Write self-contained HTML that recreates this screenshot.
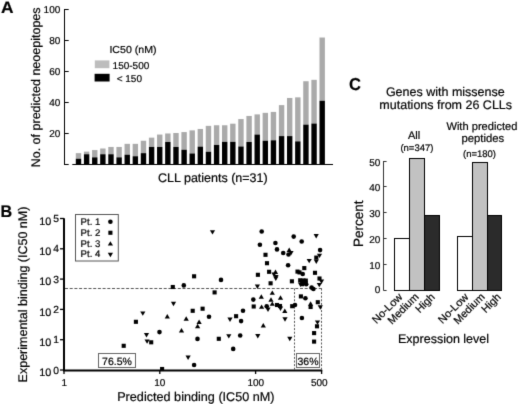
<!DOCTYPE html>
<html><head><meta charset="utf-8"><style>
html,body{margin:0;padding:0;background:#fff;}
svg{display:block;}
text{font-family:"Liberation Sans", sans-serif;fill:#000;stroke:#000;stroke-width:0.2px;text-rendering:geometricPrecision;}
</style></head><body>
<svg width="520" height="404" viewBox="0 0 520 404">
<defs><filter id="sb" color-interpolation-filters="sRGB" x="0" y="0" width="520" height="404" filterUnits="userSpaceOnUse"><feConvolveMatrix order="3" kernelMatrix="0.0113 0.0838 0.0113 0.0838 0.6193 0.0838 0.0113 0.0838 0.0113" edgeMode="duplicate"/></filter></defs>
<rect width="520" height="404" fill="#fff"/>
<g filter="url(#sb)">
<text transform="translate(0.9,12.8) scale(1.05,1)" font-size="16.5" font-weight="bold">A</text>
<line x1="64.5" y1="9" x2="64.5" y2="165" stroke="#000" stroke-width="1"/>
<line x1="64.5" y1="164.5" x2="68.7" y2="164.5" stroke="#000" stroke-width="1"/>
<line x1="64.5" y1="133.5" x2="68.7" y2="133.5" stroke="#000" stroke-width="1"/>
<text x="60.3" y="137.4" font-size="10" text-anchor="end">20</text>
<line x1="64.5" y1="102.5" x2="68.7" y2="102.5" stroke="#000" stroke-width="1"/>
<text x="60.3" y="106.4" font-size="10" text-anchor="end">40</text>
<line x1="64.5" y1="71.5" x2="68.7" y2="71.5" stroke="#000" stroke-width="1"/>
<text x="60.3" y="75.4" font-size="10" text-anchor="end">60</text>
<line x1="64.5" y1="40.5" x2="68.7" y2="40.5" stroke="#000" stroke-width="1"/>
<text x="60.3" y="44.4" font-size="10" text-anchor="end">80</text>
<line x1="64.5" y1="9.5" x2="68.7" y2="9.5" stroke="#000" stroke-width="1"/>
<text x="60.3" y="13.4" font-size="10" text-anchor="end">100</text>
<line x1="72.3" y1="164.5" x2="333" y2="164.5" stroke="#000" stroke-width="1"/>
<rect x="75.80" y="153.15" width="5.4" height="5.58" fill="#aaaaaa"/>
<rect x="75.80" y="158.73" width="5.4" height="5.27" fill="#000"/>
<rect x="83.92" y="151.60" width="5.4" height="2.64" fill="#aaaaaa"/>
<rect x="83.92" y="154.24" width="5.4" height="9.76" fill="#000"/>
<rect x="92.05" y="150.05" width="5.4" height="7.28" fill="#aaaaaa"/>
<rect x="92.05" y="157.34" width="5.4" height="6.66" fill="#000"/>
<rect x="100.17" y="148.50" width="5.4" height="5.74" fill="#aaaaaa"/>
<rect x="100.17" y="154.24" width="5.4" height="9.76" fill="#000"/>
<rect x="108.29" y="146.95" width="5.4" height="7.29" fill="#aaaaaa"/>
<rect x="108.29" y="154.24" width="5.4" height="9.76" fill="#000"/>
<rect x="116.41" y="146.95" width="5.4" height="10.39" fill="#aaaaaa"/>
<rect x="116.41" y="157.34" width="5.4" height="6.66" fill="#000"/>
<rect x="124.54" y="143.85" width="5.4" height="10.85" fill="#aaaaaa"/>
<rect x="124.54" y="154.70" width="5.4" height="9.30" fill="#000"/>
<rect x="132.66" y="143.85" width="5.4" height="12.40" fill="#aaaaaa"/>
<rect x="132.66" y="156.25" width="5.4" height="7.75" fill="#000"/>
<rect x="140.78" y="140.75" width="5.4" height="12.40" fill="#aaaaaa"/>
<rect x="140.78" y="153.15" width="5.4" height="10.85" fill="#000"/>
<rect x="148.91" y="137.65" width="5.4" height="9.30" fill="#aaaaaa"/>
<rect x="148.91" y="146.95" width="5.4" height="17.05" fill="#000"/>
<rect x="157.03" y="134.55" width="5.4" height="12.40" fill="#aaaaaa"/>
<rect x="157.03" y="146.95" width="5.4" height="17.05" fill="#000"/>
<rect x="165.15" y="133.47" width="5.4" height="8.53" fill="#aaaaaa"/>
<rect x="165.15" y="141.99" width="5.4" height="22.01" fill="#000"/>
<rect x="173.28" y="133.00" width="5.4" height="13.95" fill="#aaaaaa"/>
<rect x="173.28" y="146.95" width="5.4" height="17.05" fill="#000"/>
<rect x="181.40" y="132.07" width="5.4" height="17.67" fill="#aaaaaa"/>
<rect x="181.40" y="149.74" width="5.4" height="14.26" fill="#000"/>
<rect x="189.52" y="130.37" width="5.4" height="23.09" fill="#aaaaaa"/>
<rect x="189.52" y="153.46" width="5.4" height="10.54" fill="#000"/>
<rect x="197.64" y="128.97" width="5.4" height="17.67" fill="#aaaaaa"/>
<rect x="197.64" y="146.64" width="5.4" height="17.36" fill="#000"/>
<rect x="205.77" y="125.87" width="5.4" height="25.88" fill="#aaaaaa"/>
<rect x="205.77" y="151.75" width="5.4" height="12.25" fill="#000"/>
<rect x="213.89" y="125.25" width="5.4" height="19.69" fill="#aaaaaa"/>
<rect x="213.89" y="144.94" width="5.4" height="19.06" fill="#000"/>
<rect x="222.01" y="125.25" width="5.4" height="16.59" fill="#aaaaaa"/>
<rect x="222.01" y="141.84" width="5.4" height="22.16" fill="#000"/>
<rect x="230.14" y="123.70" width="5.4" height="18.14" fill="#aaaaaa"/>
<rect x="230.14" y="141.84" width="5.4" height="22.16" fill="#000"/>
<rect x="238.26" y="119.05" width="5.4" height="27.44" fill="#aaaaaa"/>
<rect x="238.26" y="146.49" width="5.4" height="17.51" fill="#000"/>
<rect x="246.38" y="115.95" width="5.4" height="26.04" fill="#aaaaaa"/>
<rect x="246.38" y="141.99" width="5.4" height="22.01" fill="#000"/>
<rect x="254.51" y="114.40" width="5.4" height="20.15" fill="#aaaaaa"/>
<rect x="254.51" y="134.55" width="5.4" height="29.45" fill="#000"/>
<rect x="262.63" y="112.85" width="5.4" height="27.90" fill="#aaaaaa"/>
<rect x="262.63" y="140.75" width="5.4" height="23.25" fill="#000"/>
<rect x="270.75" y="111.92" width="5.4" height="28.37" fill="#aaaaaa"/>
<rect x="270.75" y="140.28" width="5.4" height="23.72" fill="#000"/>
<rect x="278.88" y="105.10" width="5.4" height="31.00" fill="#aaaaaa"/>
<rect x="278.88" y="136.10" width="5.4" height="27.90" fill="#000"/>
<rect x="287.00" y="97.97" width="5.4" height="38.13" fill="#aaaaaa"/>
<rect x="287.00" y="136.10" width="5.4" height="27.90" fill="#000"/>
<rect x="295.12" y="97.35" width="5.4" height="44.02" fill="#aaaaaa"/>
<rect x="295.12" y="141.37" width="5.4" height="22.63" fill="#000"/>
<rect x="303.24" y="81.23" width="5.4" height="43.40" fill="#aaaaaa"/>
<rect x="303.24" y="124.63" width="5.4" height="39.37" fill="#000"/>
<rect x="311.37" y="79.84" width="5.4" height="43.71" fill="#aaaaaa"/>
<rect x="311.37" y="123.54" width="5.4" height="40.46" fill="#000"/>
<rect x="319.49" y="37.52" width="5.4" height="63.24" fill="#aaaaaa"/>
<rect x="319.49" y="100.76" width="5.4" height="63.24" fill="#000"/>
<text transform="translate(109.4,53.4) scale(1.05,1)" font-size="10.1">IC50 (nM)</text>
<rect x="94.8" y="60.4" width="14.6" height="7.8" fill="#bdbdbd"/>
<rect x="94.6" y="73.8" width="15" height="7.7" fill="#000"/>
<text x="112.6" y="68.5" font-size="10">150-500</text>
<text x="116.7" y="81.5" font-size="10">&lt; 150</text>
<text x="158" y="181.9" font-size="12.5">CLL patients (n=31)</text>
<text transform="translate(40.0,167.3) rotate(-90)" font-size="12.5">No. of predicted neoepitopes</text>
<text transform="translate(0.6,216.9) scale(0.96,1)" font-size="16.8" font-weight="bold">B</text>
<line x1="64" y1="218.2" x2="64" y2="371" stroke="#000" stroke-width="2"/>
<line x1="60" y1="370.0" x2="64" y2="370.0" stroke="#000" stroke-width="1.3"/>
<text x="39.2" y="376.2" font-size="10.8">10</text>
<text x="53.3" y="373.5" font-size="10.3">0</text>
<line x1="60" y1="339.7" x2="64" y2="339.7" stroke="#000" stroke-width="1.3"/>
<text x="39.2" y="345.9" font-size="10.8">10</text>
<text x="53.3" y="343.2" font-size="10.3">1</text>
<line x1="60" y1="309.4" x2="64" y2="309.4" stroke="#000" stroke-width="1.3"/>
<text x="39.2" y="315.6" font-size="10.8">10</text>
<text x="53.3" y="312.9" font-size="10.3">2</text>
<line x1="60" y1="279.1" x2="64" y2="279.1" stroke="#000" stroke-width="1.3"/>
<text x="39.2" y="285.3" font-size="10.8">10</text>
<text x="53.3" y="282.6" font-size="10.3">3</text>
<line x1="60" y1="248.8" x2="64" y2="248.8" stroke="#000" stroke-width="1.3"/>
<text x="39.2" y="255.0" font-size="10.8">10</text>
<text x="53.3" y="252.3" font-size="10.3">4</text>
<line x1="60" y1="218.5" x2="64" y2="218.5" stroke="#000" stroke-width="1.3"/>
<text x="39.2" y="224.7" font-size="10.8">10</text>
<text x="53.3" y="222.0" font-size="10.3">5</text>
<line x1="63" y1="370.4" x2="322.2" y2="370.4" stroke="#000" stroke-width="2"/>
<line x1="64.0" y1="370.0" x2="64.0" y2="374.0" stroke="#000" stroke-width="1.3"/>
<text x="64.2" y="385.6" font-size="10" text-anchor="middle">1</text>
<line x1="159.8" y1="370.0" x2="159.8" y2="374.0" stroke="#000" stroke-width="1.3"/>
<text x="159.8" y="385.6" font-size="10" text-anchor="middle">10</text>
<line x1="255.6" y1="370.0" x2="255.6" y2="374.0" stroke="#000" stroke-width="1.3"/>
<text x="255.8" y="385.6" font-size="10" text-anchor="middle">100</text>
<line x1="321.6" y1="370.0" x2="321.6" y2="374.0" stroke="#000" stroke-width="1.3"/>
<text x="319.3" y="385.6" font-size="10" text-anchor="middle">500</text>
<text x="117.2" y="400.6" font-size="12.65">Predicted binding (IC50 nM)</text>
<text transform="translate(27.3,382.4) rotate(-90)" font-size="12.5">Experimental binding (IC50 nM)</text>
<line x1="65" y1="288.5" x2="322" y2="288.5" stroke="#555" stroke-width="1" stroke-dasharray="3,1.7"/>
<line x1="294.5" y1="288.5" x2="294.5" y2="370" stroke="#555" stroke-width="1" stroke-dasharray="2,1.6"/>
<line x1="321.5" y1="288.5" x2="321.5" y2="370" stroke="#555" stroke-width="1" stroke-dasharray="2,1.6"/>
<rect x="98.5" y="353.5" width="37" height="14" fill="#fff" stroke="#666" stroke-width="1"/>
<text x="117" y="365" font-size="10.5" text-anchor="middle">76.5%</text>
<rect x="296.5" y="353.5" width="23" height="14" fill="#fff" stroke="#666" stroke-width="1"/>
<text x="308" y="364.6" font-size="10.5" text-anchor="middle">36%</text>
<rect x="75.5" y="214.5" width="42.8" height="46.5" fill="#fff" stroke="#555" stroke-width="1"/>
<text x="80.6" y="224.7" font-size="9.6">Pt. 1</text>
<text x="80.6" y="235.6" font-size="9.6">Pt. 2</text>
<text x="80.6" y="246.5" font-size="9.6">Pt. 3</text>
<text x="80.6" y="257.4" font-size="9.6">Pt. 4</text>
<circle cx="110.4" cy="221.8" r="2.3"/>
<rect x="108.35" y="230.70" width="4.1" height="4.1"/>
<path d="M107.80,245.60L113.00,245.60L110.40,241.20Z"/>
<path d="M107.80,252.75L113.00,252.75L110.40,257.15Z"/>
<g fill="#000">
<rect x="121.65" y="343.75" width="4.1" height="4.1"/>
<rect x="133.85" y="319.75" width="4.1" height="4.1"/>
<path d="M140.20,311.40L145.40,311.40L142.80,315.80Z"/>
<path d="M164.70,318.40L169.90,318.40L167.30,314.00Z"/>
<circle cx="159.5" cy="332.1" r="2.3"/>
<path d="M143.90,333.10L149.10,333.10L146.50,337.50Z"/>
<path d="M144.50,339.40L149.70,339.40L147.10,343.80Z"/>
<rect x="149.15" y="340.25" width="4.1" height="4.1"/>
<rect x="160.05" y="366.95" width="4.1" height="4.1"/>
<rect x="170.75" y="284.95" width="4.1" height="4.1"/>
<circle cx="183.8" cy="285.4" r="2.3"/>
<rect x="192.05" y="274.25" width="4.1" height="4.1"/>
<path d="M209.90,230.20L215.10,230.20L212.50,234.60Z"/>
<circle cx="221.0" cy="279.9" r="2.3"/>
<rect x="212.55" y="290.35" width="4.1" height="4.1"/>
<path d="M170.90,301.80L176.10,301.80L173.50,306.20Z"/>
<rect x="190.65" y="308.75" width="4.1" height="4.1"/>
<rect x="200.55" y="306.65" width="4.1" height="4.1"/>
<path d="M183.60,320.70L188.80,320.70L186.20,316.30Z"/>
<circle cx="209.0" cy="316.8" r="2.3"/>
<path d="M196.50,323.90L201.70,323.90L199.10,319.50Z"/>
<path d="M195.00,328.20L200.20,328.20L197.60,323.80Z"/>
<path d="M178.90,332.50L184.10,332.50L181.50,328.10Z"/>
<circle cx="197.5" cy="338.9" r="2.3"/>
<rect x="216.75" y="336.75" width="4.1" height="4.1"/>
<path d="M185.50,355.60L190.70,355.60L188.10,360.00Z"/>
<circle cx="194.1" cy="365.0" r="2.3"/>
<path d="M254.80,284.60L260.00,284.60L257.40,289.00Z"/>
<path d="M258.70,298.70L263.90,298.70L261.30,294.30Z"/>
<path d="M269.70,294.80L274.90,294.80L272.30,290.40Z"/>
<circle cx="253.3" cy="299.6" r="2.3"/>
<rect x="251.65" y="304.45" width="4.1" height="4.1"/>
<path d="M259.00,308.80L264.20,308.80L261.60,304.40Z"/>
<circle cx="266.7" cy="306.2" r="2.3"/>
<path d="M268.40,301.70L273.60,301.70L271.00,297.30Z"/>
<path d="M269.70,305.80L274.90,305.80L272.30,301.40Z"/>
<path d="M265.40,307.60L270.60,307.60L268.00,312.00Z"/>
<circle cx="243.0" cy="310.8" r="2.3"/>
<rect x="234.05" y="314.15" width="4.1" height="4.1"/>
<path d="M227.40,317.50L232.60,317.50L230.00,321.90Z"/>
<circle cx="241.1" cy="321.1" r="2.3"/>
<path d="M260.70,327.50L265.90,327.50L263.30,323.10Z"/>
<path d="M226.20,334.20L231.40,334.20L228.80,338.60Z"/>
<circle cx="240.2" cy="335.5" r="2.3"/>
<path d="M255.20,334.10L260.40,334.10L257.80,338.50Z"/>
<circle cx="233.2" cy="348.9" r="2.3"/>
<path d="M277.90,299.70L283.10,299.70L280.50,295.30Z"/>
<rect x="274.95" y="302.95" width="4.1" height="4.1"/>
<rect x="277.95" y="303.95" width="4.1" height="4.1"/>
<path d="M277.90,306.60L283.10,306.60L280.50,311.00Z"/>
<path d="M282.20,312.90L287.40,312.90L284.80,308.50Z"/>
<path d="M282.40,317.30L287.60,317.30L285.00,321.70Z"/>
<path d="M287.20,336.80L292.40,336.80L289.80,341.20Z"/>
<rect x="290.15" y="304.15" width="4.1" height="4.1"/>
<circle cx="295.0" cy="305.0" r="2.3"/>
<rect x="298.85" y="294.35" width="4.1" height="4.1"/>
<circle cx="305.4" cy="298.3" r="2.3"/>
<path d="M308.00,305.70L313.20,305.70L310.60,301.30Z"/>
<rect x="308.55" y="304.95" width="4.1" height="4.1"/>
<rect x="315.75" y="300.15" width="4.1" height="4.1"/>
<path d="M317.70,305.30L322.90,305.30L320.30,309.70Z"/>
<circle cx="301.9" cy="318.0" r="2.3"/>
<path d="M314.90,320.40L320.10,320.40L317.50,324.80Z"/>
<rect x="314.95" y="324.25" width="4.1" height="4.1"/>
<rect x="312.05" y="331.05" width="4.1" height="4.1"/>
<rect x="312.05" y="339.55" width="4.1" height="4.1"/>
<circle cx="311.6" cy="287.6" r="2.3"/>
<circle cx="313.4" cy="289.0" r="2.3"/>
<rect x="268.55" y="281.25" width="4.1" height="4.1"/>
<rect x="289.85" y="279.25" width="4.1" height="4.1"/>
<path d="M273.20,276.60L278.40,276.60L275.80,281.00Z"/>
<circle cx="261.7" cy="231.5" r="2.3"/>
<circle cx="259.9" cy="244.8" r="2.3"/>
<circle cx="275.4" cy="243.0" r="2.3"/>
<circle cx="277.0" cy="249.4" r="2.3"/>
<circle cx="283.2" cy="253.0" r="2.3"/>
<rect x="263.45" y="252.75" width="4.1" height="4.1"/>
<circle cx="293.7" cy="236.6" r="2.3"/>
<circle cx="301.7" cy="241.5" r="2.3"/>
<path d="M313.60,234.00L318.80,234.00L316.20,238.40Z"/>
<path d="M286.60,251.90L291.80,251.90L289.20,247.50Z"/>
<path d="M288.40,251.10L293.60,251.10L291.00,255.50Z"/>
<circle cx="288.5" cy="254.5" r="2.3"/>
<circle cx="320.1" cy="250.1" r="2.3"/>
<path d="M316.90,253.70L322.10,253.70L319.50,258.10Z"/>
<path d="M306.60,258.90L311.80,258.90L309.20,263.30Z"/>
<rect x="314.25" y="255.55" width="4.1" height="4.1"/>
<path d="M313.70,259.50L318.90,259.50L316.30,263.90Z"/>
<circle cx="288.1" cy="265.2" r="2.3"/>
<rect x="264.95" y="261.15" width="4.1" height="4.1"/>
<rect x="267.05" y="269.75" width="4.1" height="4.1"/>
<rect x="255.85" y="272.75" width="4.1" height="4.1"/>
<path d="M272.90,273.90L278.10,273.90L275.50,269.50Z"/>
<path d="M273.40,275.10L278.60,275.10L276.00,279.50Z"/>
<path d="M271.40,272.60L276.60,272.60L274.00,277.00Z"/>
<rect x="302.25" y="266.05" width="4.1" height="4.1"/>
<rect x="295.45" y="269.55" width="4.1" height="4.1"/>
<rect x="297.45" y="270.35" width="4.1" height="4.1"/>
<circle cx="302.7" cy="274.0" r="2.3"/>
<rect x="312.95" y="270.75" width="4.1" height="4.1"/>
<rect x="298.15" y="278.25" width="4.1" height="4.1"/>
<rect x="303.75" y="278.55" width="4.1" height="4.1"/>
<circle cx="302.8" cy="282.5" r="2.3"/>
<path d="M297.90,282.60L303.10,282.60L300.50,287.00Z"/>
<circle cx="306.2" cy="284.3" r="2.3"/>
<rect x="301.45" y="278.45" width="4.1" height="4.1"/>
<rect x="299.95" y="282.15" width="4.1" height="4.1"/>
<rect x="303.45" y="280.95" width="4.1" height="4.1"/>
<rect x="317.45" y="276.45" width="4.1" height="4.1"/>
<path d="M318.90,279.60L324.10,279.60L321.50,284.00Z"/>
<path d="M316.70,282.90L321.90,282.90L319.30,287.30Z"/>
</g>
<text transform="translate(348.9,89.7) scale(0.96,1)" font-size="17.3" font-weight="bold">C</text>
<text x="445.3" y="95.9" font-size="12.5" text-anchor="middle">Genes with missense</text>
<text x="445.7" y="108.8" font-size="12.5" text-anchor="middle">mutations from 26 CLLs</text>
<text x="414" y="138.6" font-size="11" text-anchor="middle">All</text>
<text x="416.9" y="150.9" font-size="9.5" text-anchor="middle">(n=347)</text>
<text x="481.9" y="129.9" font-size="11.1" text-anchor="middle">With predicted</text>
<text x="482.8" y="142.3" font-size="11.3" text-anchor="middle">peptides</text>
<text x="479.5" y="156.6" font-size="9.5" text-anchor="middle">(n=180)</text>
<line x1="383.5" y1="161" x2="383.5" y2="290.5" stroke="#333" stroke-width="1"/>
<line x1="383.5" y1="290.5" x2="386.6" y2="290.5" stroke="#333" stroke-width="1"/>
<text x="380.3" y="292.5" font-size="10" text-anchor="end">0</text>
<line x1="383.5" y1="264.5" x2="386.6" y2="264.5" stroke="#333" stroke-width="1"/>
<text x="380.3" y="268.7" font-size="10" text-anchor="end">10</text>
<line x1="383.5" y1="238.5" x2="386.6" y2="238.5" stroke="#333" stroke-width="1"/>
<text x="380.3" y="242.7" font-size="10" text-anchor="end">20</text>
<line x1="383.5" y1="212.5" x2="386.6" y2="212.5" stroke="#333" stroke-width="1"/>
<text x="380.3" y="216.7" font-size="10" text-anchor="end">30</text>
<line x1="383.5" y1="186.5" x2="386.6" y2="186.5" stroke="#333" stroke-width="1"/>
<text x="380.3" y="190.7" font-size="10" text-anchor="end">40</text>
<line x1="383.5" y1="161.5" x2="386.6" y2="161.5" stroke="#333" stroke-width="1"/>
<text x="380.3" y="165.7" font-size="10" text-anchor="end">50</text>
<rect x="394.5" y="238.5" width="15.00" height="52.00" fill="#fff" stroke="#000" stroke-width="1"/>
<rect x="409.5" y="158.5" width="15.00" height="132.00" fill="#c2c2c2" stroke="#000" stroke-width="1"/>
<rect x="424.5" y="215.5" width="15.00" height="75.00" fill="#2b2b2b" stroke="#000" stroke-width="1"/>
<rect x="457.5" y="236.5" width="15.00" height="54.00" fill="#fff" stroke="#000" stroke-width="1"/>
<rect x="472.5" y="162.5" width="15.00" height="128.00" fill="#c2c2c2" stroke="#000" stroke-width="1"/>
<rect x="487.5" y="215.5" width="14.00" height="75.00" fill="#2b2b2b" stroke="#000" stroke-width="1"/>
<text transform="translate(403.0,297.6) rotate(-45)" font-size="10.9" text-anchor="end">No-Low</text>
<text transform="translate(419.3,297.6) rotate(-45)" font-size="10.9" text-anchor="end">Medium</text>
<text transform="translate(435.5,297.6) rotate(-45)" font-size="10.9" text-anchor="end">High</text>
<text transform="translate(469.0,297.6) rotate(-45)" font-size="10.9" text-anchor="end">No-Low</text>
<text transform="translate(485.3,297.6) rotate(-45)" font-size="10.9" text-anchor="end">Medium</text>
<text transform="translate(501.5,297.6) rotate(-45)" font-size="10.9" text-anchor="end">High</text>
<text transform="translate(363.3,247) rotate(-90)" font-size="13.5">Percent</text>
<text x="398" y="343.2" font-size="12.5">Expression level</text>
</g>
</svg></body></html>
